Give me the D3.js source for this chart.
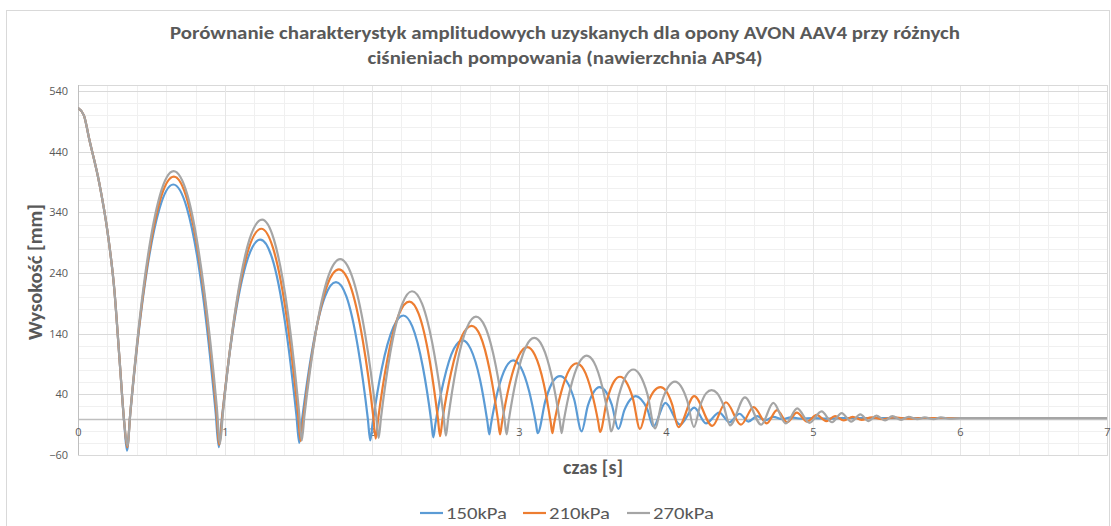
<!DOCTYPE html>
<html><head><meta charset="utf-8">
<script src="https://cdn.jsdelivr.net/npm/d3@7"></script>
<style>
body{margin:0;background:#fff;}
svg{display:block;font-family:Carlito,"Open Sans",sans-serif;}
</style></head>
<body><svg id="c" width="1111" height="526"></svg>
<script>
const titleLines = ["Porównanie charakterystyk amplitudowych uzyskanych dla opony AVON AAV4 przy różnych",
                    "ciśnieniach pompowania (nawierzchnia APS4)"];
const yAxisTitle = "Wysokość [mm]";
const xAxisTitle = "czas [s]";
const seriesNames = ["150kPa","210kPa","270kPa"];
const seriesColors = ["#5B9BD5","#ED7D31","#A5A5A5"];
const yTicks = [-60,40,140,240,340,440,540];
const xTicks = [0,1,2,3,4,5,6,7];

const data150 = [[0,512],[0.04,500],[0.077,460],[0.145,388],[0.202,306],[0.247,213],[0.281,103],[0.315,-9],
[0.333,-53],[0.355,6],[0.443,201],[0.554,346],[0.648,386],[0.741,347],[0.850,203],[0.936,11],
[0.958,-47],[0.978,-1],[1.057,151],[1.155,264],[1.240,295],[1.320,265],[1.412,153],[1.486,5],
[1.505,-40],[1.523,-4],[1.593,113],[1.680,201],[1.755,225],[1.825,202],[1.906,115],[1.972,-1],
[1.988,-36],[2.004,-8],[2.067,83],[2.146,151],[2.213,170],[2.274,152],[2.346,85],[2.403,-4],
[2.417,-31],[2.431,-9],[2.487,61],[2.557,115],[2.617,129],[2.671,115],[2.735,64],[2.785,-5],
[2.798,-26],[2.809,-10],[2.855,45],[2.912,85],[2.961,96],[3.011,85],[3.069,45],[3.115,-8],
[3.127,-24],[3.180,30],[3.233,62],[3.279,70],[3.323,62],[3.375,32],
[3.426,-21],[3.468,21],[3.511,45],[3.547,52],[3.586,46],[3.631,23],
[3.676,-17],[3.717,14],[3.759,32],[3.794,37],[3.830,32],[3.872,16],
[3.914,-13],[3.996,26],[4.095,-10],[4.192,18],[4.272,-8],[4.362,10],[4.432,-6],[4.500,8],[4.560,-5],[4.620,4],
[4.675,-3],[4.730,3],[4.79,-1],[4.85,2],[4.92,0],[5.00,1],[5.10,0],[5.20,1],[7.0,1]];

const data210 = [[0,512],[0.04,500],[0.077,460],[0.145,388],[0.202,306],[0.247,213],[0.281,103],[0.315,-7],
[0.335,-47],[0.357,13],[0.446,211],[0.557,359],[0.652,399],[0.745,359],[0.854,212],[0.940,17],
[0.962,-43],[0.982,5],[1.062,163],[1.162,281],[1.247,313],[1.327,281],[1.421,165],[1.496,10],
[1.515,-37],[1.533,1],[1.606,127],[1.697,221],[1.775,246],[1.850,221],[1.938,128],[2.008,5],
[2.025,-33],[2.041,-2],[2.105,98],[2.185,173],[2.254,193],[2.317,173],[2.390,99],[2.448,1],
[2.463,-29],[2.478,-4],[2.538,76],[2.614,137],[2.678,153],[2.736,137],[2.803,77],[2.857,-2],
[2.871,-26],[2.884,-7],[2.936,57],[3.001,105],[3.057,118],[3.108,105],[3.168,58],[3.215,-5],
[3.227,-24],[3.239,-8],[3.285,42],[3.343,81],[3.392,91],[3.440,81],[3.495,43],[3.540,-7],
[3.551,-22],[3.599,31],[3.646,61],[3.687,69],[3.728,61],[3.775,33],
[3.823,-17],[3.872,23],[3.920,46],[3.962,52],[3.999,46],[4.041,24],
[4.084,-14],[4.192,37],[4.315,-12],[4.408,27],[4.510,-10],[4.596,19],[4.685,-8],[4.755,14],[4.825,-6],[4.890,10],
[4.960,-5],[5.025,6],[5.090,-4],[5.150,4],[5.210,-3],[5.270,3],[5.33,-2],[5.40,2],[5.47,-1],[5.55,2],[5.65,0],[5.75,1],[7.0,1]];

const data270 = [[0,512],[0.04,500],[0.077,460],[0.145,388],[0.202,306],[0.247,213],[0.281,103],[0.315,-7],
[0.336,-45],[0.358,16],[0.446,217],[0.556,367],[0.650,408],[0.745,368],[0.855,218],[0.944,20],
[0.966,-41],[0.986,9],[1.066,172],[1.166,295],[1.252,328],[1.333,295],[1.428,174],[1.503,13],
[1.522,-36],[1.540,4],[1.614,137],[1.705,236],[1.784,263],[1.862,236],[1.954,138],[2.027,8],
[2.045,-32],[2.061,1],[2.124,108],[2.204,188],[2.272,210],[2.341,189],[2.422,109],[2.487,4],
[2.503,-28],[2.517,-2],[2.574,85],[2.646,150],[2.707,168],[2.770,151],[2.843,86],[2.901,0],
[2.916,-26],[2.929,-5],[2.982,66],[3.048,119],[3.104,133],[3.160,119],[3.225,67],[3.277,-3],
[3.290,-24],[3.302,-7],[3.350,50],[3.409,92],[3.460,104],[3.510,93],[3.568,51],[3.614,-4],
[3.626,-21],[3.679,38],[3.732,72],[3.778,81],[3.822,72],[3.874,40],
[3.925,-16],[3.973,29],[4.020,54],[4.061,61],[4.100,54],[4.145,29],
[4.190,-14],[4.232,21],[4.274,42],[4.310,47],[4.348,42],[4.391,22],
[4.435,-11],[4.537,35],[4.648,-10],[4.730,26],[4.815,-8],[4.893,17],[4.975,-7],[5.058,12],[5.130,-6],[5.195,9],
[5.260,-5],[5.322,7],[5.378,-4],[5.432,5],[5.49,-3],[5.54,4],[5.60,-2],[5.65,3],[5.71,-1],[5.76,2],[5.82,-1],[5.87,2],
[5.93,0],[6.0,1],[7.0,1]];

const allSeries = [data150, data210, data270];

const svg = d3.select("#c");
const textColor = "#595959";

// chart border
svg.append("rect").attr("x",6.5).attr("y",10.5).attr("width",1103).attr("height",530)
  .attr("fill","none").attr("stroke","#d9d9d9");

const x = d3.scaleLinear().domain([0,7]).range([78,1107]);
const y = d3.scaleLinear().domain([-60,550]).range([455,85]);

const grid = svg.append("g");
// minor grid
grid.selectAll("line.hmin").data(d3.range(-40,550,20)).join("line")
  .attr("x1",x(0)).attr("x2",x(7)).attr("y1",d=>Math.round(y(d))+0.5).attr("y2",d=>Math.round(y(d))+0.5)
  .attr("stroke","#f0f0f0");
grid.selectAll("line.vmin").data(d3.range(0.2,7,0.2)).join("line")
  .attr("y1",y(-60)).attr("y2",y(550)).attr("x1",d=>Math.round(x(d))+0.5).attr("x2",d=>Math.round(x(d))+0.5)
  .attr("stroke","#f0f0f0");
// major grid
grid.selectAll("line.hmaj").data(yTicks).join("line")
  .attr("x1",x(0)).attr("x2",x(7)).attr("y1",d=>Math.round(y(d))+0.5).attr("y2",d=>Math.round(y(d))+0.5)
  .attr("stroke","#d9d9d9");
grid.append("g").selectAll("line").data(xTicks).join("line")
  .attr("y1",y(-60)).attr("y2",y(550)).attr("x1",d=>Math.round(x(d))+0.5).attr("x2",d=>Math.round(x(d))+0.5)
  .attr("stroke","#e6e6e6");
// plot border
svg.append("rect").attr("x",Math.round(x(0))+0.5).attr("y",Math.round(y(550))+0.5)
  .attr("width",Math.round(x(7))-Math.round(x(0))).attr("height",Math.round(y(-60))-Math.round(y(550)))
  .attr("fill","none").attr("stroke","#d9d9d9");
// left axis line & zero line
svg.append("line").attr("x1",Math.round(x(0))+0.5).attr("x2",Math.round(x(0))+0.5)
  .attr("y1",y(550)).attr("y2",y(-60)).attr("stroke","#bfbfbf");
svg.append("line").attr("x1",x(0)).attr("x2",x(7)).attr("y1",Math.round(y(0))+0.5).attr("y2",Math.round(y(0))+0.5)
  .attr("stroke","#bfbfbf").attr("stroke-width",1.3);

// axes labels
const yAxis = svg.append("g").attr("transform",`translate(${x(0)},0)`)
  .call(d3.axisLeft(y).tickValues(yTicks).tickSize(0).tickPadding(10));
yAxis.select(".domain").remove();
yAxis.selectAll("text").attr("fill",textColor).style("font-size","11px").style("font-family","'Open Sans',sans-serif");

const xAxis = svg.append("g").attr("transform",`translate(0,${y(0)})`)
  .call(d3.axisBottom(x).tickValues(xTicks).tickFormat(d3.format("d")).tickSize(0).tickPadding(10));
xAxis.select(".domain").remove();
xAxis.selectAll("text").attr("fill",textColor).style("font-size","11px").style("font-family","'Open Sans',sans-serif");

// lines
svg.append("clipPath").attr("id","clip").append("rect")
  .attr("x",x(0)).attr("y",y(550)).attr("width",x(7)-x(0)).attr("height",y(-60)-y(550));
const line = d3.line().x(d=>x(d[0])).y(d=>y(d[1])).curve(d3.curveMonotoneX);
svg.append("g").attr("clip-path","url(#clip)").selectAll("path").data(allSeries).join("path")
  .attr("d",line).attr("fill","none")
  .attr("stroke",(d,i)=>seriesColors[i]).attr("stroke-width",2.2)
  .attr("stroke-linejoin","round").attr("stroke-linecap","round");

// titles
svg.append("text").attr("x",565).attr("y",39).attr("text-anchor","middle")
  .attr("fill",textColor).style("font-size","17px").style("font-weight","bold")
  .attr("textLength",790).attr("lengthAdjust","spacingAndGlyphs").text(titleLines[0]);
svg.append("text").attr("x",565).attr("y",64).attr("text-anchor","middle")
  .attr("fill",textColor).style("font-size","17px").style("font-weight","bold")
  .attr("textLength",395).attr("lengthAdjust","spacingAndGlyphs").text(titleLines[1]);

svg.append("text").attr("transform","translate(42,272) rotate(-90)").attr("text-anchor","middle")
  .attr("fill",textColor).style("font-size","20px").style("font-weight","bold")
  .attr("textLength",136).attr("lengthAdjust","spacingAndGlyphs").text(yAxisTitle);
svg.append("text").attr("x",593).attr("y",474).attr("text-anchor","middle")
  .attr("fill",textColor).style("font-size","20px").style("font-weight","bold")
  .attr("textLength",60).attr("lengthAdjust","spacingAndGlyphs").text(xAxisTitle);

// legend
const legX = [420,523,627];
const leg = svg.append("g");
seriesNames.forEach((n,i)=>{
  leg.append("line").attr("x1",legX[i]).attr("x2",legX[i]+23).attr("y1",513).attr("y2",513)
    .attr("stroke",seriesColors[i]).attr("stroke-width",2.2);
  leg.append("text").attr("x",legX[i]+26).attr("y",519).attr("fill",textColor)
    .style("font-size","17px").attr("textLength",61).attr("lengthAdjust","spacingAndGlyphs").text(n);
});
</script></body></html>
